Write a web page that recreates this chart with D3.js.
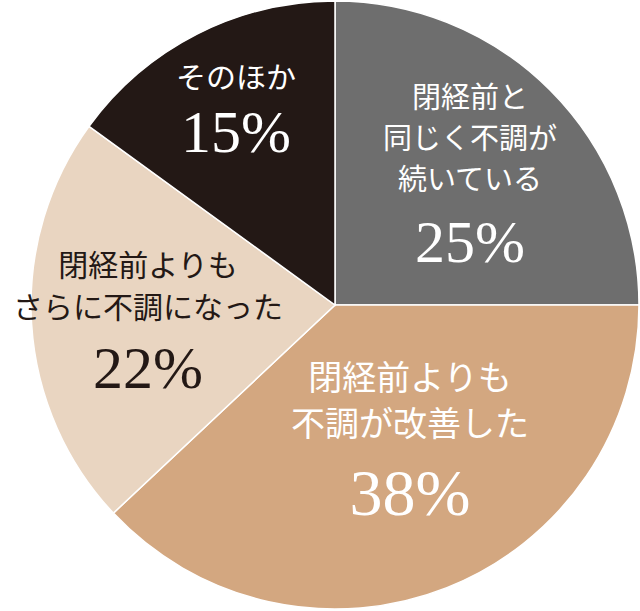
<!DOCTYPE html>
<html><head><meta charset="utf-8">
<script src="https://cdn.jsdelivr.net/npm/d3@7"></script>
<style>body{margin:0;background:#fff}</style></head>
<body><svg id="c" width="640" height="611"></svg>
<script>
const categories=["閉経前と同じく不調が続いている","閉経前よりも不調が改善した","閉経前よりもさらに不調になった","そのほか"];
const values=[25,38,22,15];
const colors=["#6e6e6e","#d3a780","#e9d5c1","#231815"];
const labelLines=[["閉経前と","同じく不調が","続いている"],["閉経前よりも","不調が改善した"],["閉経前よりも","さらに不調になった"],["そのほか"]];
const textColors=["#fff","#fff","#231815","#fff"];
const svg=d3.select("#c");
const cx=335,cy=305,r=304;
const g=svg.append("g").attr("transform",`translate(${cx},${cy})`);
const pie=d3.pie().sort(null).value(d=>d);
const arcs=pie(values);
g.selectAll("path").data(arcs).join("path")
 .attr("d",d3.arc().innerRadius(0).outerRadius(r))
 .attr("fill",(d,i)=>colors[i]).attr("stroke","#fff").attr("stroke-width",1.5);
const lay=[[470,108,41,262,29,60],[410,390,46,515,34,66],[148,276,42,388,30,60],[236,88,0,152,30,60]];
arcs.forEach((a,i)=>{
  const [x,y0,lh,py,fs,ps]=lay[i];
  labelLines[i].forEach((t,j)=>{
    svg.append("text").attr("x",x).attr("y",y0+j*lh).attr("text-anchor","middle")
      .attr("font-family","'Noto Sans CJK JP'").attr("font-size",fs).attr("fill",textColors[i]).text(t);
  });
  svg.append("text").attr("x",x).attr("y",py).attr("text-anchor","middle")
    .attr("font-family","'Liberation Serif',serif").attr("font-size",ps).attr("fill",textColors[i])
    .text(values[i]+"%");
});
</script></body></html>
